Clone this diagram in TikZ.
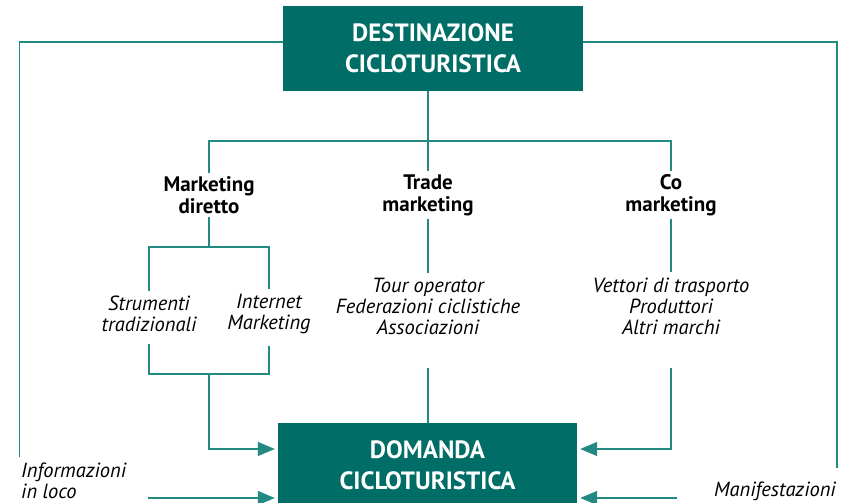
\documentclass[tikz,border=0pt]{standalone}
\usepackage{fontspec}
\setmainfont{PT Sans}
\usetikzlibrary{positioning, arrows.meta}
\definecolor{boxteal}{RGB}{0,110,102}
\definecolor{lineteal}{RGB}{35,138,130}

\begin{document}
\begin{tikzpicture}[x=1pt,y=-1pt]
\tikzstyle{box}=[fill=boxteal, text=white, font=\fontsize{25}{31}\selectfont\bfseries, align=center, minimum width=300pt, minimum height=85pt, inner sep=0pt]
\tikzstyle{head}=[font=\fontsize{21}{22}\selectfont\bfseries, align=center, inner xsep=0pt, inner ysep=3pt]
\tikzstyle{item}=[font=\fontsize{20.5}{21}\selectfont\itshape, align=center, inner xsep=0pt, inner ysep=5pt]
\tikzstyle{link}=[draw=lineteal, line width=1.2pt]
\tikzstyle{arr}=[link, -{Triangle[length=17pt,width=14pt]}, shorten >=3pt]

\clip (0,0) rectangle (854,503);

\node[box] at (433,48.5) (dest) {DESTINAZIONE\\CICLOTURISTICA};
\node[box, minimum width=299pt, minimum height=84pt] at (427.5,465) (dom) {DOMANDA\\CICLOTURISTICA};

\node[head] at (209,195) (md) {Marketing\\diretto};
\node[head] at (428,195) (tm) {Trade\\marketing};
\node[head] at (671,195) (cm) {Co\\marketing};

\node[item] at (149,314) (st) {Strumenti\\tradizionali};
\node[item] at (269,314) (im) {Internet\\Marketing};
\node[item] at (428,306) (to) {Tour operator\\Federazioni ciclistiche\\Associazioni};
\node[item] at (671,306) (vt) {Vettori di trasporto\\Produttori\\Altri marchi};

\node[item, align=left, anchor=west] at (21,481) (info) {Informazioni\\in loco};
\node[item, anchor=east] at (836,491) (manif) {Manifestazioni};

% junctions and free ends
\coordinate (br) at (428,141);
\coordinate (mdj) at (209,247);
\coordinate (stj) at (209,374);
\coordinate (lt) at (19.5,42);
\coordinate (lb) at (19.5,457);
\coordinate (rt) at (837,42);
\coordinate (rb) at (837,468);
\coordinate (ia) at (148,498);
\coordinate (ma) at (677,498);

% from the destination down to the three kinds of marketing
\draw[link] (dest.south -| tm) -- (tm.north);
\draw[link] (md.north) |- (br) -| (cm.north);
\draw[link] (md.south) -- (mdj);
\draw[link] (st.north) |- (mdj) -| (im.north);
\draw[link] (tm.south) -- (to.north);
\draw[link] (cm.south) -- (vt.north);

% into the demand
\draw[link] ([yshift=-7pt]st.south) |- (stj) -| ([yshift=-7pt]im.south);
\draw[arr] (stj) |- ([yshift=16pt]dom.west);
\draw[link] ([yshift=-28pt]to.south) -- (to.south |- dom.north);
\draw[arr] ([yshift=-28pt]vt.south) |- ([yshift=16pt]dom.east);

% outer paths
\draw[link] (dest.west |- lt) -- (lt) -- (lb);
\draw[link] (dest.east |- rt) -- (rt) -- (rb);
\draw[arr] (ia) -- (ia -| dom.west);
\draw[arr] (ma) -- (ma -| dom.east);
\end{tikzpicture}
\end{document}
